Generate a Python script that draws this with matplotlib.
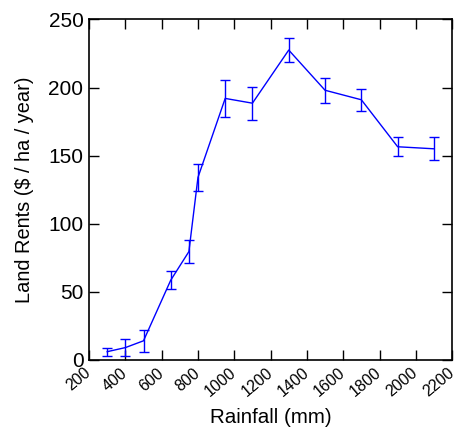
import matplotlib
matplotlib.use("Agg")
import matplotlib.pyplot as plt

plt.rcParams['font.family'] = ['Liberation Sans', 'DejaVu Sans']

rainfall = [300, 400, 500, 650, 750, 800, 950, 1100, 1300, 1500, 1700, 1900, 2100]
rents = [6, 9, 14, 58.5, 79.5, 134, 192, 188.5, 227.5, 198, 191, 156.5, 155]
err = [3, 6, 8, 6.7, 8.3, 10, 13.7, 12, 8.7, 9.3, 8.2, 7, 8.5]

fig = plt.figure(figsize=(4.59, 4.32), dpi=100)
ax = fig.add_axes([0.194, 0.167, 0.791, 0.788])

ax.errorbar(rainfall, rents, yerr=err, color='#0000ff', lw=1,
            capsize=3.6, elinewidth=1, capthick=1)

ax.set_xlim(200, 2200)
ax.set_ylim(0, 250)
ax.set_xticks(range(200, 2201, 200))
ax.set_yticks(range(0, 251, 50))
ax.tick_params(direction='in', length=7, width=1, top=True, right=True,
               labelsize=15, pad=4)
ax.tick_params(axis='x', labelsize=11.5, labelrotation=40, pad=8)
for lbl in ax.get_xticklabels():
    lbl.set_ha('right')
    lbl.set_va('center')
    lbl.set_rotation_mode('anchor')
for s in ax.spines.values():
    s.set_linewidth(1.2)

ax.set_xlabel('Rainfall (mm)', fontsize=14.8, labelpad=6)
ax.set_ylabel('Land Rents ($ / ha / year)', fontsize=14.4, labelpad=10)

fig.savefig('out.png', dpi=100)
